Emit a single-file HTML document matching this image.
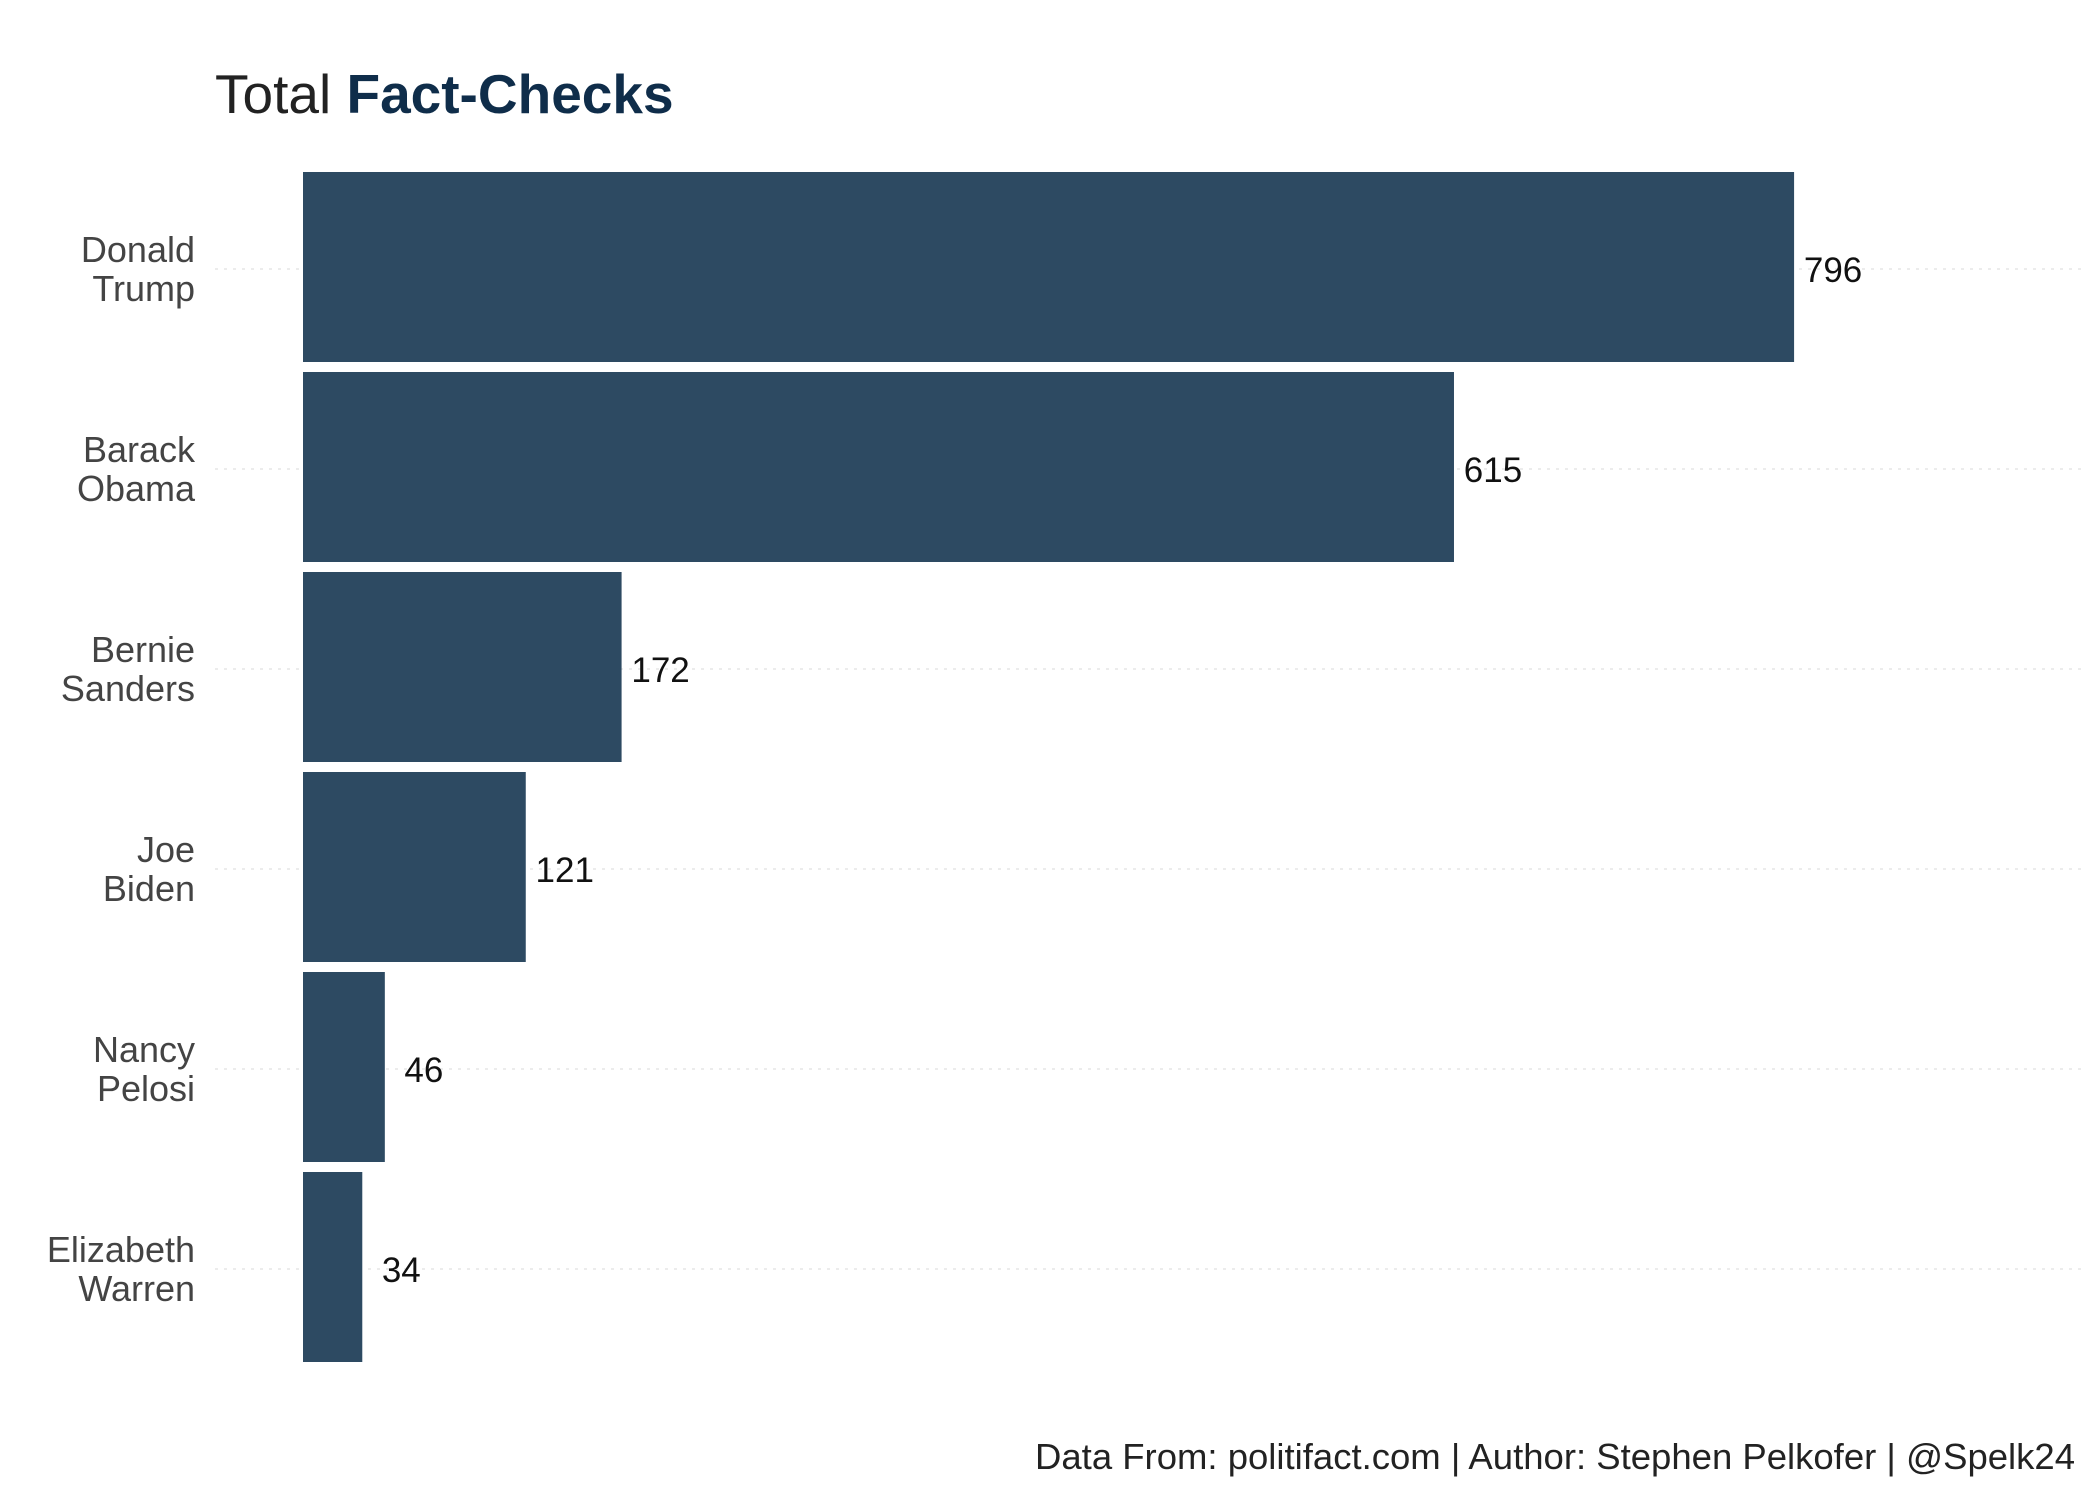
<!DOCTYPE html>
<html><head><meta charset="utf-8"><style>
body{margin:0;background:#fff;}
svg{display:block;font-family:"Liberation Sans",Arial,sans-serif;}
</style></head><body>
<svg id="chart" width="2100" height="1500" viewBox="0 0 2100 1500">
<text x="215" y="113" font-size="55" fill="#222">Total <tspan font-weight="bold" fill="#0f2d4a">Fact-Checks</tspan></text>
<g id="grid"></g><g id="bars"></g><g id="labels"></g><g id="values"></g>
<text x="2075" y="1469" font-size="36.5" fill="#222" text-anchor="end">Data From: politifact.com | Author: Stephen Pelkofer | @Spelk24</text>
</svg>
<script>
const firstNames = ["Donald","Barack","Bernie","Joe","Nancy","Elizabeth"];
const lastNames = ["Trump","Obama","Sanders","Biden","Pelosi","Warren"];
const counts = [796,615,172,121,46,34];
const NS="http://www.w3.org/2000/svg";
const x0=303, xScale=1.879, xOff=-4.6;
const x=v=>x0+xOff+v*xScale;
const top0=172, step=200, bh=190;
const yc=i=>top0+i*step+bh/2;
function mk(t,a,p){const e=document.createElementNS(NS,t);for(const k in a)e.setAttribute(k,a[k]);document.getElementById(p).appendChild(e);return e;}
counts.forEach((v,i)=>{
  const g=mk('line',{x1:215,x2:2084,y1:yc(i)+2,y2:yc(i)+2,stroke:'#e6e6e6','stroke-width':1.5,'stroke-dasharray':'3,6'},'grid');
  
  
  const r=mk('rect',{x:x0,y:yc(i)-bh/2,width:x(v)-x0,height:bh,fill:'#2d4a62'},'bars');
  
  
  const t1=mk('text',{x:195,y:yc(i)-5,'font-size':36,fill:'#444','text-anchor':'end'},'labels');
  t1.textContent=firstNames[i];
  
  
  const t2=mk('text',{x:195,y:yc(i)+34,'font-size':36,fill:'#444','text-anchor':'end'},'labels');
  t2.textContent=lastNames[i];
  
  
  const vt=mk('text',{x:x(v)+39,y:yc(i)+15,'font-size':35,fill:'#111','text-anchor':'middle'},'values');
  vt.textContent=v;
  
  
});
</script>
</body></html>
